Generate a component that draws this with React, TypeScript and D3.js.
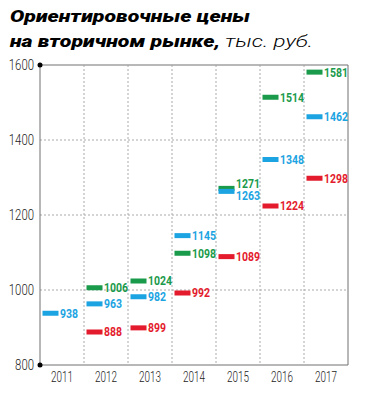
import React from "react";
import * as d3 from "d3";

const years = ["2011", "2012", "2013", "2014", "2015", "2016", "2017"];
const greenValues: (number | null)[] = [null, 1006, 1024, 1098, 1271, 1514, 1581];
const blueValues: (number | null)[] = [938, 963, 982, 1145, 1263, 1348, 1462];
const redValues: (number | null)[] = [null, 888, 899, 992, 1089, 1224, 1298];
const yTicks = [800, 1000, 1200, 1400, 1600];

const W = 366, H = 399;
const left = 40, right = 348, top = 65, bottom = 365;

const GREEN = "#1a9a4b";
const BLUE = "#1ca4e2";
const RED = "#e41b2d";

export default function App() {
  const x = d3.scaleBand<string>().domain(years).range([left, right]);
  const y = d3.scaleLinear().domain([800, 1600]).range([bottom, top]);
  const series = [
    { name: "green", values: greenValues, color: GREEN },
    { name: "blue", values: blueValues, color: BLUE },
    { name: "red", values: redValues, color: RED },
  ];
  const barW = 16, barH = 5;
  const font = "Roboto, sans-serif";
  const nudge = (s: string, i: number) => {
    if (years[i] === "2015" && s === "green") return -4.5;
    if (years[i] === "2015" && s === "blue") return 4.5;
    return 0;
  };
  return (
    <svg width={W} height={H} style={{ position: "absolute", left: 0, top: 0, background: "#fff" }}>
      <text x={10} y={22} fontFamily={font} fontWeight={900} fontStyle="italic" fontSize={17} fill="#000"
        textLength={240} lengthAdjust="spacingAndGlyphs">
        Ориентировочные цены
      </text>
      <text x={10} y={47} fontFamily={font} fontWeight={900} fontStyle="italic" fontSize={17} fill="#000"
        textLength={210} lengthAdjust="spacingAndGlyphs">
        на вторичном рынке,
      </text>
      <text x={225} y={47} fontFamily={font} fontWeight={300} fontStyle="italic" fontSize={17} fill="#000"
        textLength={88} lengthAdjust="spacingAndGlyphs">
        тыс. руб.
      </text>
      {/* grid */}
      {yTicks.filter((t) => t > 800 && t < 1600).map((t) => (
        <line key={t} x1={left} x2={right} y1={y(t)} y2={y(t)} stroke="#aaa" strokeWidth={1} strokeDasharray="2,2" />
      ))}
      {years.slice(1).map((yr) => (
        <line key={yr} x1={x(yr)!} x2={x(yr)!} y1={top} y2={bottom} stroke="#aaa" strokeWidth={1} strokeDasharray="2,2" />
      ))}
      {/* frame */}
      <line x1={left} x2={right} y1={top} y2={top} stroke="#a0a0a0" strokeWidth={1.5} />
      <line x1={right} x2={right} y1={top} y2={bottom} stroke="#707070" strokeWidth={1} />
      <line x1={left} x2={right} y1={bottom} y2={bottom} stroke="#707070" strokeWidth={1} />
      <line x1={left} x2={left} y1={top} y2={bottom} stroke="#707070" strokeWidth={1} />
      <circle cx={left} cy={top} r={2.5} fill="#000" />
      <circle cx={left} cy={bottom} r={2.5} fill="#000" />
      {/* y tick labels */}
      {yTicks.map((t) => (
        <text key={t} x={34} y={y(t)} dy="0.36em" textAnchor="end" fontFamily={font} fontWeight={300} fontSize={14} fill="#222"
          textLength={String(t).length * 6.3} lengthAdjust="spacingAndGlyphs">
          {t}
        </text>
      ))}
      {/* year labels */}
      {years.map((yr) => (
        <text key={yr} x={x(yr)! + x.bandwidth() / 2} y={382} textAnchor="middle" fontFamily={font} fontWeight={300} fontSize={14} fill="#222"
          textLength={22} lengthAdjust="spacingAndGlyphs">
          {yr}
        </text>
      ))}
      {/* marks */}
      {series.map((s) =>
        s.values.map((v, i) => {
          if (v == null) return null;
          const x0 = x(years[i])! + 2.5;
          const cy = y(v);
          return (
            <g key={s.name + i}>
              <rect x={x0} y={cy - barH / 2} width={barW} height={barH} fill={s.color} />
              <text x={x0 + barW + 1.5} y={cy + nudge(s.name, i)} dy="0.35em" fontFamily={font} fontWeight={700} fontSize={12.5} fill={s.color}
                textLength={String(v).length * 6} lengthAdjust="spacingAndGlyphs">
                {v}
              </text>
            </g>
          );
        })
      )}
    </svg>
  );
}
